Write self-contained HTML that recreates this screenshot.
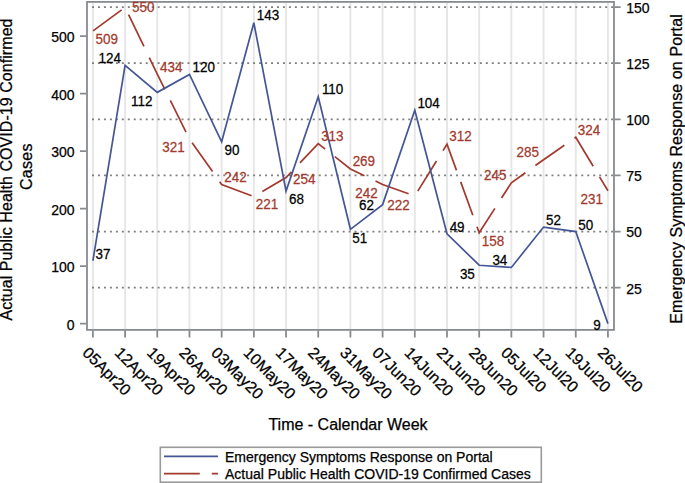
<!DOCTYPE html>
<html><head><meta charset="utf-8"><style>
html,body{margin:0;padding:0;background:#fff;}
body{width:685px;height:483px;overflow:hidden;}
svg{display:block;}
text{font-family:"Liberation Sans",sans-serif;stroke-width:0.25px;}
</style></head><body>
<svg width="685" height="483" viewBox="0 0 685 483">
<rect x="0" y="0" width="685" height="483" fill="#fff"/>

<path d="M92.90 2.8V329 M125.09 2.8V329 M157.28 2.8V329 M189.47 2.8V329 M221.66 2.8V329 M253.85 2.8V329 M286.04 2.8V329 M318.23 2.8V329 M350.42 2.8V329 M382.61 2.8V329 M414.80 2.8V329 M446.99 2.8V329 M479.18 2.8V329 M511.37 2.8V329 M543.56 2.8V329 M575.75 2.8V329 M607.94 2.8V329" stroke="#e6e6e6" stroke-width="1.9" fill="none"/>
<path d="M92 287.68H613 M92 231.55H613 M92 175.43H613 M92 119.30H613 M92 63.18H613 M92 7.05H613" stroke="#808080" stroke-width="1.7" stroke-dasharray="2 3.967" fill="none"/>
<rect x="87" y="1.9" width="527" height="328" fill="none" stroke="#878b90" stroke-width="1.8"/>
<path d="M80 323.60H86.5 M80 266.10H86.5 M80 208.60H86.5 M80 151.10H86.5 M80 93.60H86.5 M80 36.10H86.5 M614.5 287.68H620.6 M614.5 231.55H620.6 M614.5 175.43H620.6 M614.5 119.30H620.6 M614.5 63.18H620.6 M614.5 7.05H620.6 M92.90 330.5V337.6 M125.09 330.5V337.6 M157.28 330.5V337.6 M189.47 330.5V337.6 M221.66 330.5V337.6 M253.85 330.5V337.6 M286.04 330.5V337.6 M318.23 330.5V337.6 M350.42 330.5V337.6 M382.61 330.5V337.6 M414.80 330.5V337.6 M446.99 330.5V337.6 M479.18 330.5V337.6 M511.37 330.5V337.6 M543.56 330.5V337.6 M575.75 330.5V337.6 M607.94 330.5V337.6" stroke="#878b90" stroke-width="1.8" fill="none"/>
<g font-size="14" fill="#000" stroke="#000"><text x="74.6" y="329.50" text-anchor="end">0</text><text x="74.6" y="272.00" text-anchor="end">100</text><text x="74.6" y="214.50" text-anchor="end">200</text><text x="74.6" y="157.00" text-anchor="end">300</text><text x="74.6" y="99.50" text-anchor="end">400</text><text x="74.6" y="42.00" text-anchor="end">500</text><text x="626.2" y="293.57">25</text><text x="626.2" y="237.45">50</text><text x="626.2" y="181.33">75</text><text x="626.2" y="125.20">100</text><text x="626.2" y="69.08">125</text><text x="626.2" y="12.95">150</text></g>
<g font-size="16" fill="#000" stroke="#000"><text transform="translate(81.60 353.80) rotate(45)">05Apr20</text><text transform="translate(113.79 353.80) rotate(45)">12Apr20</text><text transform="translate(145.98 353.80) rotate(45)">19Apr20</text><text transform="translate(178.17 353.80) rotate(45)">26Apr20</text><text transform="translate(210.36 353.80) rotate(45)">03May20</text><text transform="translate(242.55 353.80) rotate(45)">10May20</text><text transform="translate(274.74 353.80) rotate(45)">17May20</text><text transform="translate(306.93 353.80) rotate(45)">24May20</text><text transform="translate(339.12 353.80) rotate(45)">31May20</text><text transform="translate(371.31 353.80) rotate(45)">07Jun20</text><text transform="translate(403.50 353.80) rotate(45)">14Jun20</text><text transform="translate(435.69 353.80) rotate(45)">21Jun20</text><text transform="translate(467.88 353.80) rotate(45)">28Jun20</text><text transform="translate(500.07 353.80) rotate(45)">05Jul20</text><text transform="translate(532.26 353.80) rotate(45)">12Jul20</text><text transform="translate(564.45 353.80) rotate(45)">19Jul20</text><text transform="translate(596.64 353.80) rotate(45)">26Jul20</text></g>
<polyline points="92.90,30.93 125.09,7.35 157.28,74.05 189.47,139.03 221.66,184.45 253.85,196.53 286.04,177.55 318.23,143.63 350.42,168.93 382.61,184.45 414.80,195.95 446.99,144.20 479.18,232.75 511.37,182.73 543.56,159.73 575.75,137.30 607.94,190.78" fill="none" stroke="#A23A2E" stroke-width="1.7" stroke-dasharray="35.4 12.3" stroke-dashoffset="-0.2" stroke-linejoin="miter"/>
<polyline points="92.90,260.74 125.09,65.42 157.28,92.36 189.47,74.40 221.66,141.75 253.85,22.76 286.04,191.14 318.23,96.85 350.42,229.31 382.61,204.61 414.80,110.32 446.99,233.80 479.18,265.23 511.37,267.47 543.56,227.06 575.75,231.55 607.94,323.60" fill="none" stroke="#445694" stroke-width="1.7" stroke-linejoin="miter"/>
<g font-size="14" text-anchor="middle"><text transform="translate(106.65 44.00) scale(0.96 1)" fill="#A23A2E" stroke="#A23A2E">509</text><text transform="translate(143.30 12.40) scale(0.96 1)" fill="#A23A2E" stroke="#A23A2E">550</text><text transform="translate(171.25 71.60) scale(0.96 1)" fill="#A23A2E" stroke="#A23A2E">434</text><text transform="translate(173.40 151.90) scale(0.96 1)" fill="#A23A2E" stroke="#A23A2E">321</text><text transform="translate(235.40 182.00) scale(0.96 1)" fill="#A23A2E" stroke="#A23A2E">242</text><text transform="translate(266.90 209.00) scale(0.96 1)" fill="#A23A2E" stroke="#A23A2E">221</text><text transform="translate(304.15 183.50) scale(0.96 1)" fill="#A23A2E" stroke="#A23A2E">254</text><text transform="translate(332.35 140.80) scale(0.96 1)" fill="#A23A2E" stroke="#A23A2E">313</text><text transform="translate(363.85 166.30) scale(0.96 1)" fill="#A23A2E" stroke="#A23A2E">269</text><text transform="translate(366.45 197.50) scale(0.96 1)" fill="#A23A2E" stroke="#A23A2E">242</text><text transform="translate(398.50 209.60) scale(0.96 1)" fill="#A23A2E" stroke="#A23A2E">222</text><text transform="translate(460.45 141.30) scale(0.96 1)" fill="#A23A2E" stroke="#A23A2E">312</text><text transform="translate(492.90 245.50) scale(0.96 1)" fill="#A23A2E" stroke="#A23A2E">158</text><text transform="translate(495.30 180.20) scale(0.96 1)" fill="#A23A2E" stroke="#A23A2E">245</text><text transform="translate(527.70 157.00) scale(0.96 1)" fill="#A23A2E" stroke="#A23A2E">285</text><text transform="translate(589.00 135.20) scale(0.96 1)" fill="#A23A2E" stroke="#A23A2E">324</text><text transform="translate(591.70 203.60) scale(0.96 1)" fill="#A23A2E" stroke="#A23A2E">231</text><text transform="translate(102.95 258.80) scale(0.96 1)" fill="#000" stroke="#000">37</text><text transform="translate(109.75 62.60) scale(0.96 1)" fill="#000" stroke="#000">124</text><text transform="translate(141.70 105.70) scale(0.96 1)" fill="#000" stroke="#000">112</text><text transform="translate(203.75 71.90) scale(0.96 1)" fill="#000" stroke="#000">120</text><text transform="translate(231.95 154.70) scale(0.96 1)" fill="#000" stroke="#000">90</text><text transform="translate(268.05 19.80) scale(0.96 1)" fill="#000" stroke="#000">143</text><text transform="translate(296.40 204.40) scale(0.96 1)" fill="#000" stroke="#000">68</text><text transform="translate(332.60 94.20) scale(0.96 1)" fill="#000" stroke="#000">110</text><text transform="translate(359.80 242.70) scale(0.96 1)" fill="#000" stroke="#000">51</text><text transform="translate(366.40 209.60) scale(0.96 1)" fill="#000" stroke="#000">62</text><text transform="translate(428.60 107.60) scale(0.96 1)" fill="#000" stroke="#000">104</text><text transform="translate(457.10 231.60) scale(0.96 1)" fill="#000" stroke="#000">49</text><text transform="translate(467.35 279.00) scale(0.96 1)" fill="#000" stroke="#000">35</text><text transform="translate(499.85 265.00) scale(0.96 1)" fill="#000" stroke="#000">34</text><text transform="translate(553.40 224.50) scale(0.96 1)" fill="#000" stroke="#000">52</text><text transform="translate(585.65 229.50) scale(0.96 1)" fill="#000" stroke="#000">50</text><text transform="translate(597.10 329.60) scale(0.96 1)" fill="#000" stroke="#000">9</text></g>
<text x="348" y="430" font-size="16" text-anchor="middle" fill="#000" stroke="#000">Time - Calendar Week</text>
<g font-size="16" fill="#000" stroke="#000" text-anchor="middle"><text transform="translate(12.4 169.45) rotate(-90)" letter-spacing="0.06">Actual Public Health COVID-19 Confirmed</text><text transform="translate(31.7 166.6) rotate(-90)" letter-spacing="0.3">Cases</text><text transform="translate(682.1 169) rotate(-90)" letter-spacing="0.1">Emergency Symptoms Response on Portal</text></g>
<rect x="160.3" y="447.3" width="381" height="34.9" fill="#fff" stroke="#9a9a9a" stroke-width="1.6"/>
<path d="M164 456.4H218" stroke="#445694" stroke-width="1.7"/>
<path d="M164 473.7H218" stroke="#A23A2E" stroke-width="1.7" stroke-dasharray="35.8 12"/>
<g font-size="14" fill="#000" stroke="#000"><text x="225" y="461.8">Emergency Symptoms Response on Portal</text><text x="225" y="478.6">Actual Public Health COVID-19 Confirmed Cases</text></g>
</svg></body></html>
